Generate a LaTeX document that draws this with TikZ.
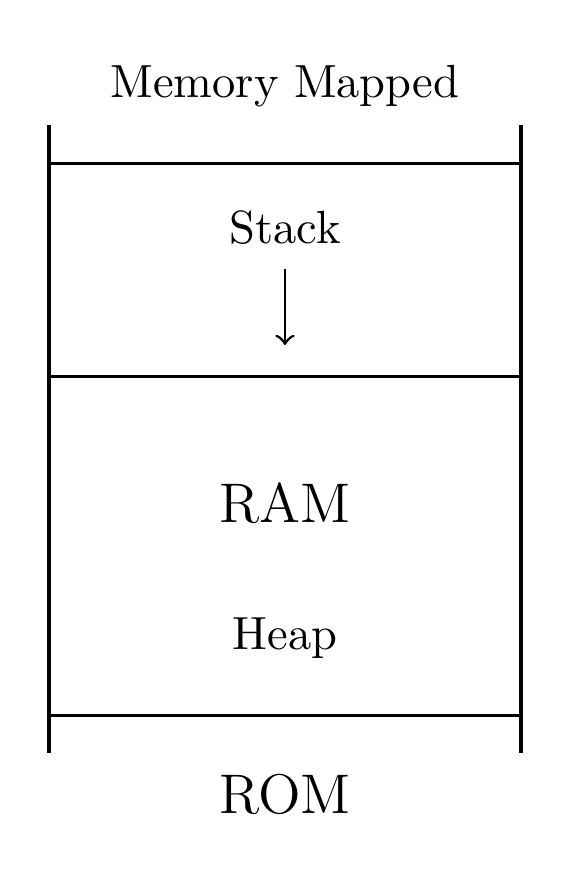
\documentclass[tikz,border=0pt]{standalone}
\usetikzlibrary{arrows}

\begin{document}
\begin{tikzpicture}[
x=0.215pt, y=-0.215pt,
 line width=0.65pt,
    lbl/.style = {anchor=base, inner sep=0pt},% small labels inside the map
    big/.style = {anchor=base, inner sep=0pt, font=\large},% region names
                        ]
\useasboundingbox (0,0) rectangle (569,879);
% the two walls of the map
\draw (49,125) -- (49,753);
\draw (521,125) -- (521,753);
% borders between the regions
\foreach \y in {163,376,715}% <-- heights of borders
    \draw (49,\y) -- (521,\y);
\node[lbl] (mapped) at (285,97)  {Memory Mapped};
\node[lbl] (stack)  at (285,243) {Stack};
\node[big] (ram)    at (285,522) {RAM};
\node[lbl] (heap)   at (285,649) {Heap};
\node[big] (rom)    at (285,813) {ROM};
\coordinate (stackend) at (285,345);
\draw[->, semithick, shorten <=5pt] (stack.south) -- (stackend);
\end{tikzpicture}
\end{document}
